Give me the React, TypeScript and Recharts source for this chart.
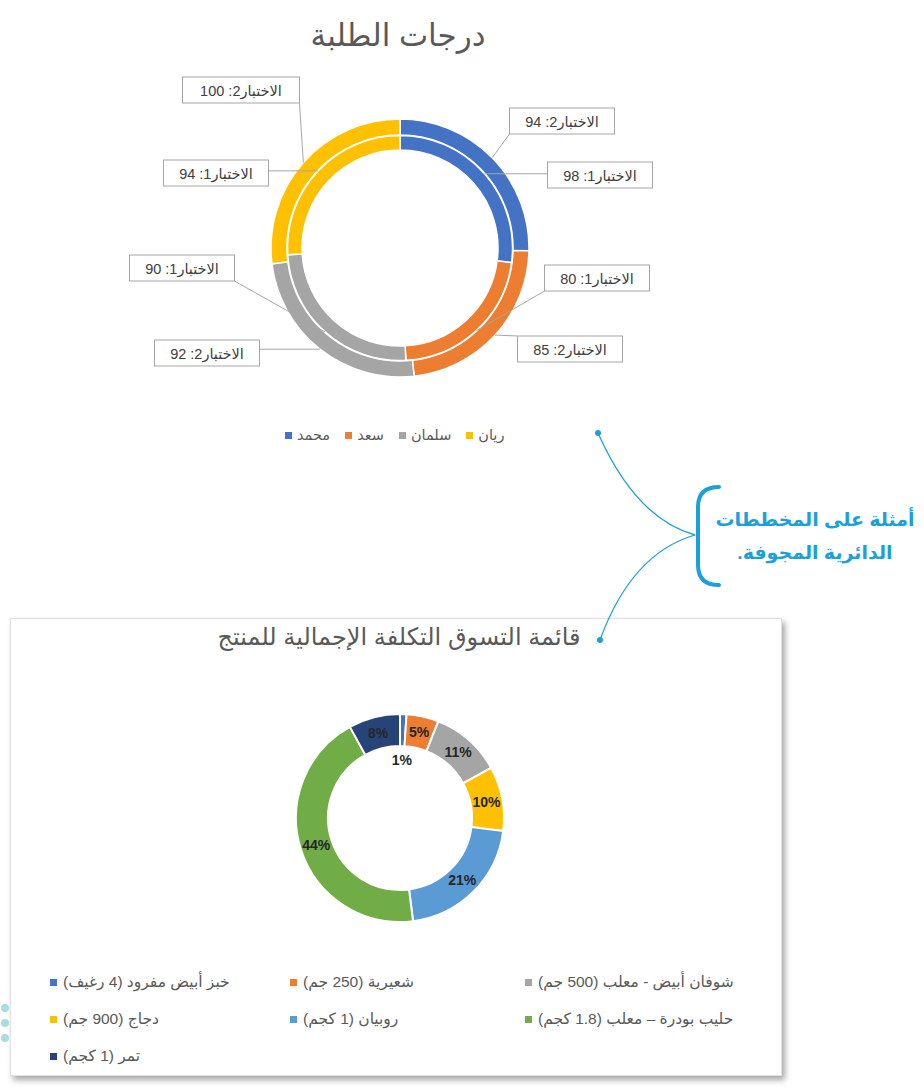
import React from 'react';
import { PieChart, Pie, Cell } from 'recharts';

// ---------- data ----------
const students = ['محمد', 'سعد', 'سلمان', 'ريان'];
const test1Scores = [98, 80, 90, 94];
const test2Scores = [94, 85, 92, 100];
const studentColors = ['#4472C4', '#ED7D31', '#A5A5A5', '#FFC000'];

const products = [
  'خبز أبيض مفرود (4 رغيف)',
  'شعيرية (250 جم)',
  'شوفان أبيض - معلب (500 جم)',
  'دجاج (900 جم)',
  'روبيان (1 كجم)',
  'حليب بودرة – معلب (1.8 كجم)',
  'تمر (1 كجم)',
];
const productShares = [1, 5, 11, 10, 21, 44, 8];
const productColors = ['#4472C4', '#ED7D31', '#A5A5A5', '#FFC000', '#5B9BD5', '#70AD47', '#264478'];

const title1 = 'درجات الطلبة';
const title2 = 'قائمة التسوق التكلفة الإجمالية للمنتج';
const calloutLines = ['أمثلة على المخططات', 'الدائرية المجوفة.'];

// ---------- layout ----------
const test1Boxes = [[600, 175], [597, 278], [182, 268], [216, 173]];
const test2Boxes = [[562, 121], [570, 349], [207, 353], [241, 90]];
const legendCols = [50, 290, 525];
const legendRows = [983, 1020, 1057];

const RAD = Math.PI / 180;
const FONT = 'Arial, "Liberation Sans", "DejaVu Sans", sans-serif';

function makeRingLabel(testNo: number, boxes: number[][]) {
  return (props: any) => {
    const { cx, cy, midAngle, outerRadius, index, value } = props;
    const px = cx + outerRadius * Math.cos(-midAngle * RAD);
    const py = cy + outerRadius * Math.sin(-midAngle * RAD);
    const [bx, by] = boxes[index];
    const w = String(value).length > 2 ? 117 : 105;
    const h = 26;
    const left = bx - w / 2;
    const top = by - h / 2;
    const ex = Math.min(Math.max(px, left), left + w);
    const ey = Math.min(Math.max(py, top), top + h);
    return (
      <g key={`l${testNo}-${index}`}>
        <line x1={px} y1={py} x2={ex} y2={ey} stroke="#a6a6a6" strokeWidth={1} />
        <rect x={left} y={top} width={w} height={h} fill="#ffffff" stroke="#a6a6a6" strokeWidth={1} />
        <text
          x={bx}
          y={by + 1}
          textAnchor="middle"
          dominantBaseline="central"
          direction="rtl"
          fontSize={14.5}
          fontFamily={FONT}
          fill="#404040"
        >
          {`الاختبار${testNo}: ${value}`}
        </text>
      </g>
    );
  };
}

const renderPct = (props: any) => {
  const { cx, cy, midAngle, innerRadius, outerRadius, index, value } = props;
  const r = index === 0 ? innerRadius - 14 : (innerRadius + outerRadius) / 2;
  const x = cx + r * Math.cos(-midAngle * RAD);
  const y = cy + r * Math.sin(-midAngle * RAD);
  return (
    <text
      key={`p${index}`}
      x={x}
      y={y}
      textAnchor="middle"
      dominantBaseline="central"
      fontSize={14}
      fontWeight="bold"
      fontFamily={FONT}
      fill="#262626"
    >
      {`${value}%`}
    </text>
  );
};

export default function App() {
  const ring1 = students.map((name, i) => ({ name, value: test1Scores[i] }));
  const ring2 = students.map((name, i) => ({ name, value: test2Scores[i] }));
  const shopping = products.map((name, i) => ({ name, value: productShares[i] }));

  return (
    <div style={{ position: 'absolute', left: 0, top: 0, width: 924, height: 1091, background: '#ffffff', fontFamily: FONT, overflow: 'hidden' }}>
      {/* top chart */}
      <div style={{ position: 'absolute', left: 0, top: 0 }}>
        <PieChart width={924} height={470}>
          <Pie
            data={ring2}
            dataKey="value"
            nameKey="name"
            cx={395}
            cy={243}
            innerRadius={113}
            outerRadius={129}
            startAngle={90}
            endAngle={-270}
            stroke="#ffffff"
            strokeWidth={1.5}
            isAnimationActive={false}
            label={makeRingLabel(2, test2Boxes)}
            labelLine={false}
          >
            {ring2.map((d, i) => (
              <Cell key={d.name} fill={studentColors[i]} />
            ))}
          </Pie>
          <Pie
            data={ring1}
            dataKey="value"
            nameKey="name"
            cx={395}
            cy={243}
            innerRadius={98}
            outerRadius={112.5}
            startAngle={90}
            endAngle={-270}
            stroke="#ffffff"
            strokeWidth={1.5}
            isAnimationActive={false}
            label={makeRingLabel(1, test1Boxes)}
            labelLine={false}
          >
            {ring1.map((d, i) => (
              <Cell key={d.name} fill={studentColors[i]} />
            ))}
          </Pie>
        </PieChart>
      </div>
      <div style={{ position: 'absolute', left: 0, top: 17, width: 796, textAlign: 'center', fontSize: 31, color: '#595959', whiteSpace: 'nowrap' }}>
        {title1}
      </div>
      <div style={{ position: 'absolute', left: 285, top: 427, display: 'flex', gap: 15, fontSize: 14.5, color: '#595959', whiteSpace: 'nowrap' }}>
        {students.map((s, i) => (
          <div key={s} style={{ display: 'flex', alignItems: 'center', gap: 5 }}>
            <span style={{ width: 7, height: 7, background: studentColors[i], display: 'inline-block' }} />
            <span dir="rtl">{s}</span>
          </div>
        ))}
      </div>

      {/* bottom chart box */}
      <div
        style={{
          position: 'absolute',
          left: 10,
          top: 618,
          width: 770,
          height: 456,
          background: '#ffffff',
          border: '1px solid #e0e0e0',
          boxShadow: '3px 4px 6px rgba(0,0,0,0.35)',
        }}
      >
        <PieChart width={770} height={456}>
          <Pie
            data={shopping}
            dataKey="value"
            nameKey="name"
            cx={384}
            cy={194}
            innerRadius={72}
            outerRadius={104}
            startAngle={90}
            endAngle={-270}
            stroke="#ffffff"
            strokeWidth={2}
            isAnimationActive={false}
            label={renderPct}
            labelLine={false}
          >
            {shopping.map((d, i) => (
              <Cell key={d.name} fill={productColors[i]} />
            ))}
          </Pie>
        </PieChart>
        <div style={{ position: 'absolute', left: 0, top: 4, width: 776, textAlign: 'center', fontSize: 24, color: '#595959', whiteSpace: 'nowrap' }}>
          {title2}
        </div>
      </div>
      {products.map((p, i) => (
        <div
          key={p}
          style={{
            position: 'absolute',
            left: legendCols[i % 3],
            top: legendRows[Math.floor(i / 3)] - 10,
            display: 'flex',
            alignItems: 'center',
            gap: 6,
            fontSize: 15.5,
            color: '#595959',
            whiteSpace: 'nowrap',
          }}
        >
          <span style={{ width: 7, height: 7, background: productColors[i], display: 'inline-block' }} />
          <span dir="rtl">{p}</span>
        </div>
      ))}

      {/* callout */}
      <svg width={924} height={1091} style={{ position: 'absolute', left: 0, top: 0, pointerEvents: 'none' }}>
        <path d="M598,433 C618,478 648,522 695,535" fill="none" stroke="#1BA1D8" strokeWidth={1.3} />
        <path d="M695,535 C650,548 620,585 600,640" fill="none" stroke="#1BA1D8" strokeWidth={1.3} />
        <circle cx={598} cy={433} r={3} fill="#1BA1D8" />
        <circle cx={600} cy={640} r={3} fill="#1BA1D8" />
        <path d="M719,487 Q698,487 698,507 L698,565 Q698,585 719,585" fill="none" stroke="#1BA1D8" strokeWidth={4} strokeLinecap="round" />
        <circle cx={5} cy={1008} r={4} fill="#A8DCE0" />
        <circle cx={5} cy={1023} r={4} fill="#A8DCE0" />
        <circle cx={5} cy={1038} r={4} fill="#A8DCE0" />
      </svg>
      <div
        style={{ position: 'absolute', left: 712, top: 503, width: 206, textAlign: 'center', fontSize: 19, fontWeight: 'bold', color: '#1BA1D8', lineHeight: '33px', whiteSpace: 'nowrap' }}
        dir="rtl"
      >
        <div>{calloutLines[0]}</div>
        <div>{calloutLines[1]}</div>
      </div>
    </div>
  );
}
